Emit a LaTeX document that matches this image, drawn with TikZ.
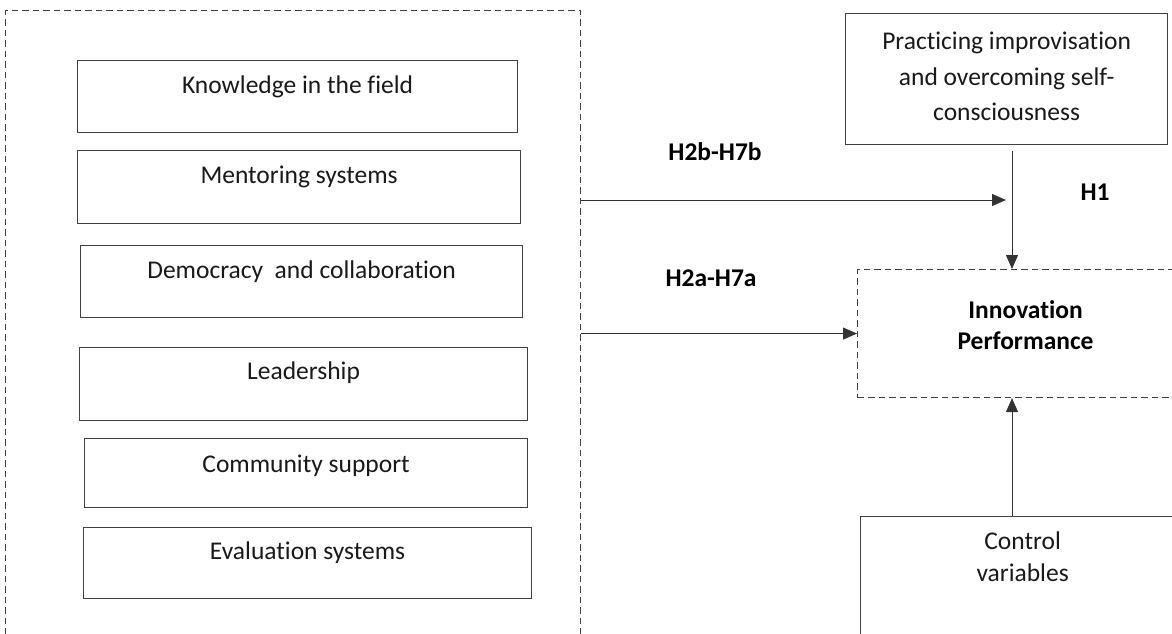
\documentclass[tikz,border=0pt]{standalone}
\usepackage{fontspec}
\setmainfont{Carlito}[Ligatures=NoCommon]
\usetikzlibrary{arrows.meta}

% one column of centred lines, baseline on the first line
\newcommand{\boxlines}[1]{\begin{tabular}[t]{@{}c@{}}#1\end{tabular}}

\tikzset{
  every node/.style={font=\fontsize{25.5}{32}\selectfont, text=black!90},
  box/.style={draw=black!75, line width=1.2pt, rectangle, anchor=north west, inner sep=0pt},
  itembox/.style={box, text height=33pt, text depth=39pt},
  dashbox/.style={draw=black!75, line width=1.1pt, dash pattern=on 6.5pt off 4pt, rectangle, anchor=north west, inner sep=0pt},
  hyp/.style={font=\fontsize{25.5}{30}\selectfont\bfseries, text=black},
  arr/.style={-{Triangle[length=14pt,width=12pt]}, draw=black!80, line width=1pt}
}

\begin{document}
\begin{tikzpicture}[x=1pt, y=-1pt]
\path[use as bounding box, clip] (0,0) rectangle (1172,633);

% dimensions group
\node[dashbox, minimum width=575pt, minimum height=700pt] (outer) at (5,10) {};
\node[itembox, minimum width=440pt] (know) at (77,60) {Knowledge in the field};
\node[itembox, minimum width=443pt, text depth=40pt] (mentor) at (77,150) {Mentoring systems};
\node[itembox, minimum width=442pt] (democ) at (80,245) {Democracy~ and collaboration};
\node[itembox, minimum width=448pt, text height=32pt, text depth=41pt] (lead) at (79,347) {Leadership};
\node[itembox, minimum width=443pt, text height=34pt, text depth=35pt] (comm) at (84,438) {Community support};
\node[itembox, minimum width=448pt, text height=32pt] (eval) at (83,527) {Evaluation systems};

% right column
\node[box, minimum width=322pt, font=\fontsize{25.5}{35.5}\selectfont, text height=36pt, text depth=95pt] (prac) at (845,13)
  {\boxlines{Practicing improvisation\\and overcoming self-\\consciousness}};
\node[dashbox, minimum width=336pt, font=\fontsize{25.5}{31}\selectfont\bfseries, text=black, text height=49pt, text depth=79pt] (innov) at (857,269)
  {\boxlines{Innovation\\Performance}};
\node[box, minimum width=324pt, text height=33pt, text depth=140pt] (ctrl) at (860,516)
  {\boxlines{Control\\variables}};

% hypotheses
\node[hyp] (h2b) at (715,152) {H2b-H7b};
\node[hyp] (h2a) at (711,278) {H2a-H7a};
\node[hyp] (h1) at (1095,192) {H1};

\coordinate (col) at (1012,0);
\coordinate (b2tip) at (1006,200);

\draw[arr] (outer.east |- b2tip) -- (b2tip);
\draw[arr] (outer.east |- innov.west) -- (innov.west);
\draw[arr, shorten <=6pt] (prac.south -| col) -- (innov.north -| col);
\draw[arr] (ctrl.north -| col) -- (innov.south -| col);
\end{tikzpicture}
\end{document}
